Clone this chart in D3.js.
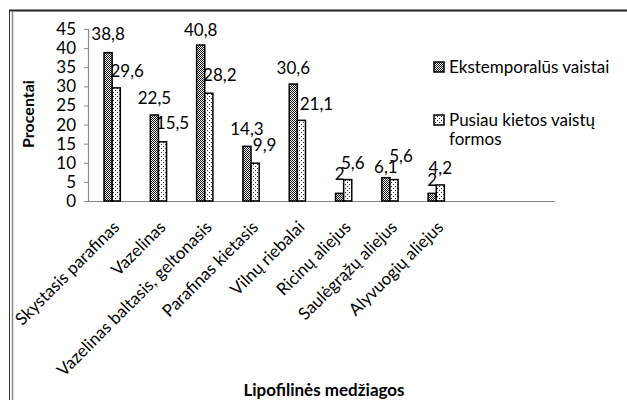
<!DOCTYPE html>
<html><head><meta charset="utf-8">
<script src="https://cdn.jsdelivr.net/npm/d3@7"></script>
<style>body{margin:0;background:#fff}svg{display:block}text{font-family:Lato,"Open Sans",sans-serif;fill:#000}</style>
</head><body>
<svg id="c" width="627" height="400"></svg>
<script>
const categories = ["Skystasis parafinas","Vazelinas","Vazelinas baltasis, geltonasis","Parafinas kietasis","Vilnų riebalai","Ricinų aliejus","Saulėgrąžų aliejus","Alyvuogių aliejus"];
const seriesNames = ["Ekstemporalūs vaistai","Pusiau kietos vaistų formos"];
const extemporal = [38.8,22.5,40.8,14.3,30.6,2,6.1,2];
const semisolid = [29.6,15.5,28.2,9.9,21.1,5.6,5.6,4.2];
const yTicks = [0,5,10,15,20,25,30,35,40,45];
const labelText = v => String(v).replace(".", ",");

// layout-only label nudges (dx, dy of label centre relative to bar top centre)
const nudge = [
  [[0,-19],[0,-17],[0,-15],[0,-17],[0,-16],[0,-19],[0,-11],[0,-13]],
  [[11,-17],[10,-19],[11,-18],[9.5,-18],[15,-16],[5,-17],[7,-24],[0,-17]]
];

const svg = d3.select("#c");
const defs = svg.append("defs");
const p1 = defs.append("pattern").attr("id","pat1").attr("width",4).attr("height",4).attr("patternUnits","userSpaceOnUse");
p1.append("rect").attr("width",4).attr("height",4).attr("fill","#fff");
[[0,0],[2,0],[1,1],[3,1],[0,2],[2,2],[1,3],[3,3]].forEach(([x,y])=>p1.append("rect").attr("x",x).attr("y",y).attr("width",1).attr("height",1).attr("fill","#111"));
const p2 = defs.append("pattern").attr("id","pat2").attr("width",4).attr("height",4).attr("patternUnits","userSpaceOnUse");
p2.append("rect").attr("width",4).attr("height",4).attr("fill","#fff");
[[1,0],[3,2]].forEach(([x,y])=>p2.append("rect").attr("x",x).attr("y",y).attr("width",1).attr("height",1).attr("fill","#222"));
const fills = ["url(#pat1)","url(#pat2)"];

// frame
svg.append("line").attr("x1",9).attr("x2",627).attr("y1",10.5).attr("y2",10.5).attr("stroke","#222").attr("stroke-width",2);
svg.append("line").attr("x1",9.5).attr("x2",9.5).attr("y1",10).attr("y2",400).attr("stroke","#333").attr("stroke-width",1);
svg.append("line").attr("x1",12.5).attr("x2",12.5).attr("y1",12).attr("y2",400).attr("stroke","#888").attr("stroke-width",1.5);

const x0 = 89, step = 46.3;
const x = d3.scaleBand().domain(categories).range([x0, x0 + step*categories.length]).paddingInner(0).paddingOuter(0);
const x1 = d3.scaleBand().domain([0,1]).range([0, x.bandwidth()]).paddingInner(0).paddingOuter(1.85);
const y = d3.scaleLinear().domain([0,45]).range([201,29]);

// y axis
const ya = svg.append("g").attr("transform","translate(88,0)").call(d3.axisLeft(y).tickValues(yTicks).tickSize(4).tickPadding(8));
ya.select(".domain").attr("stroke","#888").attr("stroke-width",1.2);
ya.selectAll(".tick line").attr("stroke","#888");
ya.selectAll(".tick text").attr("font-size",17).attr("font-family","Lato");
// x axis line
svg.append("line").attr("x1",88).attr("x2",555).attr("y1",y(0)+0.5).attr("y2",y(0)+0.5).attr("stroke","#888").attr("stroke-width",1.2);

const series = [extemporal, semisolid];
series.forEach((vals, s) => {
  svg.append("g").selectAll("rect").data(vals).join("rect")
    .attr("x",(d,i)=>x(categories[i])+x1(s))
    .attr("y",d=>y(d))
    .attr("width",x1.bandwidth())
    .attr("height",d=>y(0)-y(d))
    .attr("fill",fills[s]).attr("stroke","#000").attr("stroke-width",1.5);
  svg.append("g").selectAll("text").data(vals).join("text")
    .attr("x",(d,i)=>x(categories[i])+x1(s)+x1.bandwidth()/2+nudge[s][i][0])
    .attr("y",(d,i)=>y(d)+nudge[s][i][1])
    .attr("dy","0.35em").attr("text-anchor","middle").attr("font-size",17)
    .text(d=>labelText(d));
});

// x labels
svg.append("g").selectAll("text").data(categories).join("text")
  .attr("transform",d=>`translate(${x(d)+x.bandwidth()/2+4},224) rotate(-45)`)
  .attr("text-anchor","end").attr("dy","0.35em").attr("font-size",17).text(d=>d);

// titles
svg.append("text").attr("transform","translate(28,114) rotate(-90)").attr("text-anchor","middle").attr("dy","0.35em")
  .attr("font-size",16).attr("font-weight","bold").text("Procentai");
svg.append("text").attr("x",324).attr("y",390).attr("text-anchor","middle").attr("dy","0.35em")
  .attr("font-size",17).attr("font-weight","bold").text("Lipofilinės medžiagos");

// legend
const leg = svg.append("g");
const legY = [67,120];
seriesNames.forEach((n,i)=>{
  leg.append("rect").attr("x",434).attr("y",legY[i]-5).attr("width",10).attr("height",10).attr("fill",fills[i]).attr("stroke","#000").attr("stroke-width",1.5);
});
leg.append("text").attr("x",449).attr("y",legY[0]).attr("dy","0.35em").attr("font-size",17).text(seriesNames[0]);
const t2 = leg.append("text").attr("x",449).attr("y",legY[1]).attr("dy","0.35em").attr("font-size",17);
t2.append("tspan").attr("x",449).text("Pusiau kietos vaistų");
t2.append("tspan").attr("x",449).attr("dy","1.1em").text("formos");
</script>
</body></html>
